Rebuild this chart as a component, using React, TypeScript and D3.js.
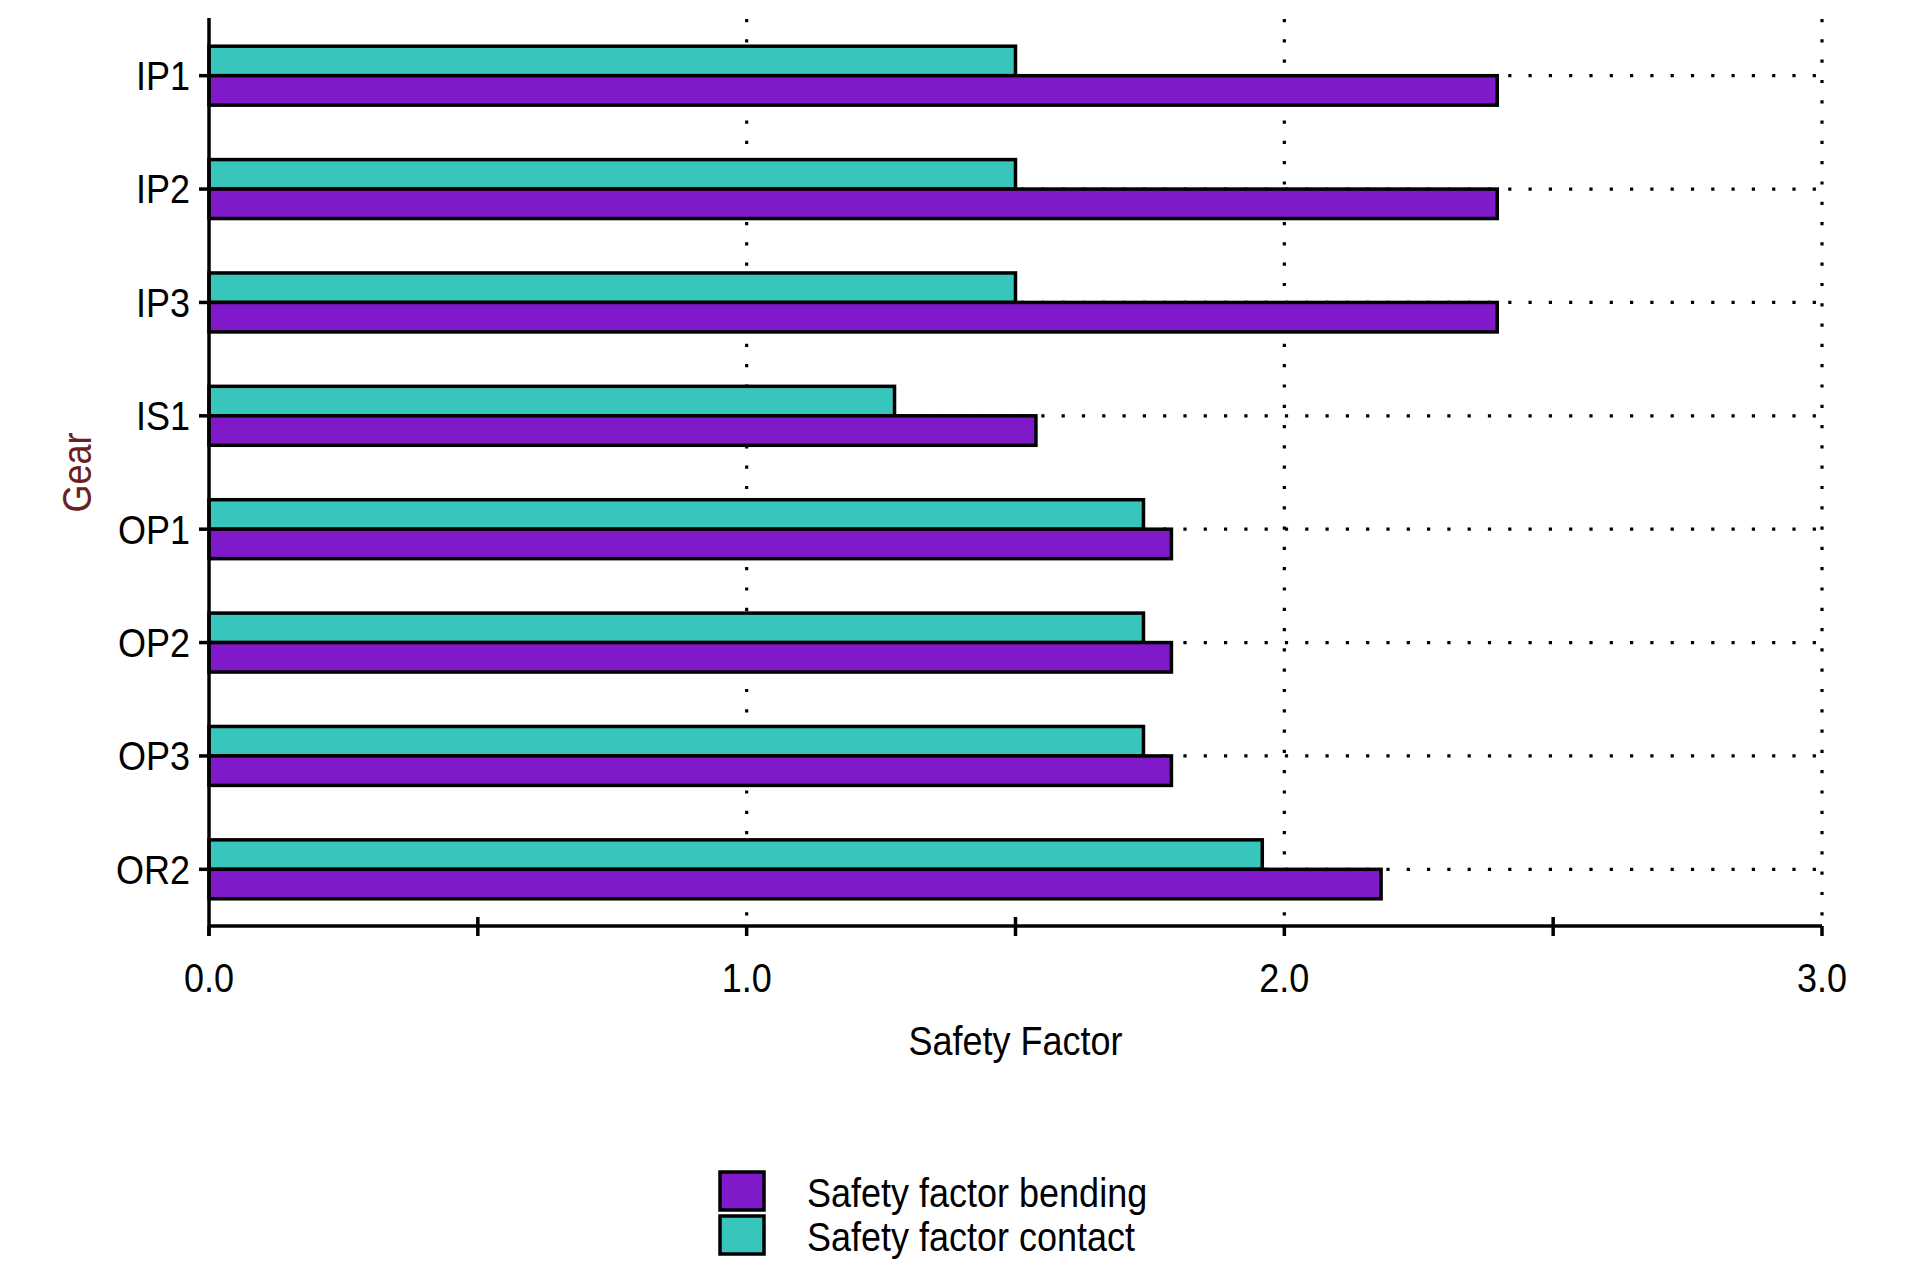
import React from "react";
import * as d3 from "d3";

const categories = ["IP1", "IP2", "IP3", "IS1", "OP1", "OP2", "OP3", "OR2"];
const contactValues = [1.5, 1.5, 1.5, 1.275, 1.738, 1.738, 1.738, 1.959];
const bendingValues = [2.396, 2.396, 2.396, 1.538, 1.79, 1.79, 1.79, 2.18];
const xTickLabels = ["0.0", "1.0", "2.0", "3.0"];
const majorTicks = [0, 1, 2, 3];
const minorTicks = [0.5, 1.5, 2.5];
const seriesNames = ["Safety factor bending", "Safety factor contact"];

const W = 1920;
const H = 1269;
const PURPLE = "#7F19CA";
const TEAL = "#38C5BC";
const FONT = "'Liberation Sans', Arial, sans-serif";
const FS = 40;
const SX = 0.9;
const SW = 3.5;

function T({ x, y, children, anchor = "start", fill = "#000", rotate = 0 }: any) {
  return (
    <text
      transform={`translate(${x},${y}) rotate(${rotate}) scale(${SX},1)`}
      textAnchor={anchor}
      fontFamily={FONT}
      fontSize={FS}
      fill={fill}
    >
      {children}
    </text>
  );
}

export default function App() {
  const top = 19;
  const bottom = 926;
  const x = d3.scaleLinear().domain([0, 3]).range([209, 1822]);
  const y = d3.scaleBand().domain(categories).range([top, bottom]).paddingInner(0).paddingOuter(0);
  const bh = y.bandwidth() * 0.26;
  const cy = (c: string) => (y(c) as number) + y.bandwidth() / 2;
  const dots = "3.2 17.1";
  const capHalf = FS * 0.358;

  return (
    <svg
      width={W}
      height={H}
      style={{ position: "absolute", left: 0, top: 0, display: "block", background: "#fff" }}
    >
      <rect x={0} y={0} width={W} height={H} fill="#fff" />
      {/* horizontal dotted gridlines */}
      {categories.map((c) => (
        <line key={"hg" + c} x1={x(0)} x2={x(3)} y1={cy(c)} y2={cy(c)} stroke="#000" strokeWidth={3.2} strokeDasharray={dots} />
      ))}
      {/* vertical dotted gridlines */}
      {majorTicks.slice(1).map((t) => (
        <line key={"vg" + t} x1={x(t)} x2={x(t)} y1={top} y2={bottom} stroke="#000" strokeWidth={3.2} strokeDasharray={dots} />
      ))}
      {/* bars */}
      {categories.map((c, i) => (
        <g key={"b" + c}>
          <rect x={x(0)} y={cy(c) - bh} width={x(contactValues[i]) - x(0)} height={bh} fill={TEAL} stroke="#000" strokeWidth={SW} />
          <rect x={x(0)} y={cy(c)} width={x(bendingValues[i]) - x(0)} height={bh} fill={PURPLE} stroke="#000" strokeWidth={SW} />
        </g>
      ))}
      {/* axes */}
      <line x1={x(0)} x2={x(0)} y1={top - 1} y2={bottom + 10} stroke="#000" strokeWidth={SW} />
      <line x1={x(0)} x2={x(3)} y1={bottom} y2={bottom} stroke="#000" strokeWidth={SW} />
      {categories.map((c) => (
        <line key={"yt" + c} x1={x(0) - 10} x2={x(0)} y1={cy(c)} y2={cy(c)} stroke="#000" strokeWidth={SW} />
      ))}
      {majorTicks.map((t) => (
        <line key={"xt" + t} x1={x(t)} x2={x(t)} y1={bottom} y2={bottom + 10} stroke="#000" strokeWidth={SW} />
      ))}
      {minorTicks.map((t) => (
        <line key={"xm" + t} x1={x(t)} x2={x(t)} y1={bottom - 9} y2={bottom + 10} stroke="#000" strokeWidth={SW} />
      ))}
      {/* labels */}
      {categories.map((c) => (
        <T key={"yl" + c} x={190} y={cy(c) + capHalf} anchor="end">
          {c}
        </T>
      ))}
      {majorTicks.map((t, i) => (
        <T key={"xl" + t} x={x(t)} y={978 + capHalf} anchor="middle">
          {xTickLabels[i]}
        </T>
      ))}
      <T x={x(1.5)} y={1055} anchor="middle">
        Safety Factor
      </T>
      <T x={77 + capHalf} y={(top + bottom) / 2} anchor="middle" rotate={-90} fill="#6b2020">
        Gear
      </T>
      {/* legend */}
      {seriesNames.map((s, i) => {
        const by = 1172 + i * 44;
        return (
          <g key={"lg" + s}>
            <rect x={720} y={by} width={44} height={38} fill={i === 0 ? PURPLE : TEAL} stroke="#000" strokeWidth={SW} />
            <T x={807} y={by + 21 + capHalf}>
              {s}
            </T>
          </g>
        );
      })}
    </svg>
  );
}
